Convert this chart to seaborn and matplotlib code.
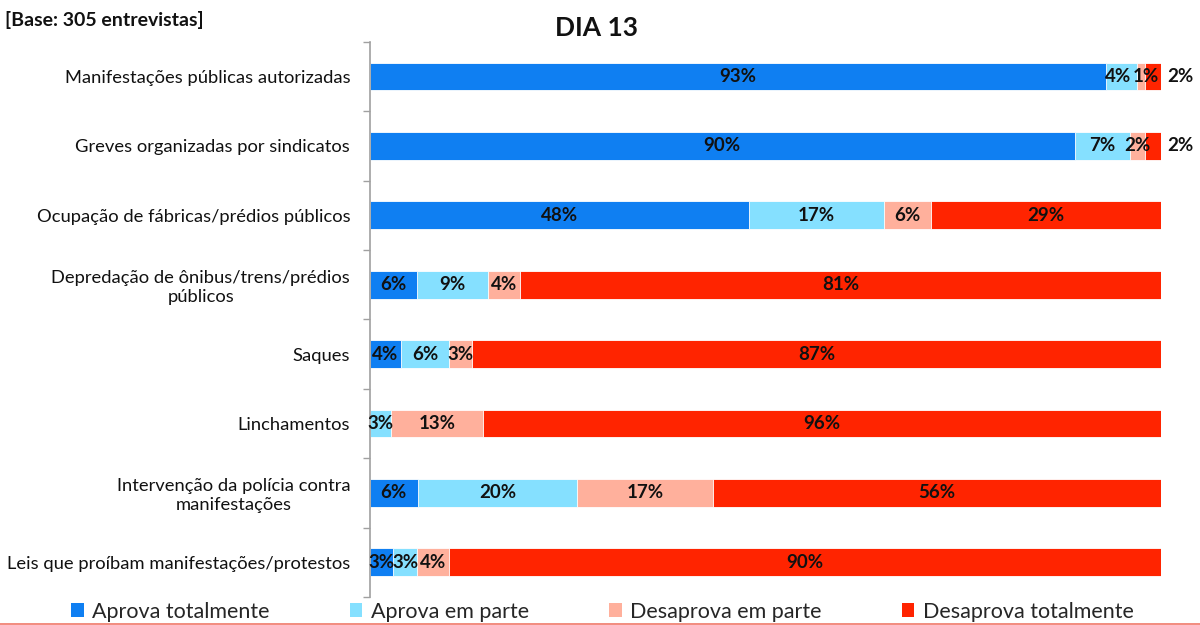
import numpy as np
import pandas as pd
import matplotlib
matplotlib.use("Agg")
import matplotlib.pyplot as plt
import seaborn as sns
from matplotlib.lines import Line2D
from matplotlib.patches import Patch


categories = [
    "Manifestações públicas autorizadas",
    "Greves organizadas por sindicatos",
    "Ocupação de fábricas/prédios públicos",
    "Depredação de ônibus/trens/prédios\npúblicos",
    "Saques",
    "Linchamentos",
    "Intervenção da polícia contra\nmanifestações",
    "Leis que proíbam manifestações/protestos",
]
aprova_total = [93, 90, 48, 6, 4, 0, 6, 3]
aprova_parte = [4, 7, 17, 9, 6, 3, 20, 3]
desaprova_parte = [1, 2, 6, 4, 3, 13, 17, 4]
desaprova_total = [2, 2, 29, 81, 87, 96, 56, 90]

series_names = ["Aprova totalmente", "Aprova em parte", "Desaprova em parte", "Desaprova totalmente"]
colors = ["#0F7FF2", "#85E0FF", "#FFB09C", "#FF2400"]

sns.set_theme(style="white")
plt.rcParams["font.family"] = ["Lato", "DejaVu Sans"]

df = pd.DataFrame({
    "categoria": categories,
    series_names[0]: aprova_total,
    series_names[1]: aprova_parte,
    series_names[2]: desaprova_parte,
    series_names[3]: desaprova_total,
})

# 100% stacked: every row is normalised by its own total
vals = df[series_names].astype(float)
share = vals.div(vals.sum(axis=1), axis=0)
cum = share.cumsum(axis=1)

fig = plt.figure(figsize=(12, 6.25), dpi=100)
ax = fig.add_axes([0.308, 0.045, 0.6595, 0.888])

# draw cumulative bars from the outermost segment inwards
for name, color in reversed(list(zip(series_names, colors))):
    sns.barplot(x=cum[name], y=df["categoria"], color=color, orient="h",
                width=0.4, edgecolor="white", linewidth=0.6, saturation=1, ax=ax)

for i in range(len(categories)):
    for j, name in enumerate(series_names):
        v = vals.iloc[i][name]
        if v == 0:
            continue
        s = share.iloc[i][name]
        x = cum.iloc[i][name] - s / 2
        if j == len(series_names) - 1 and s < 0.03:
            x = 1.024
        elif s < 0.015:
            # tiny segment: push label a little right so it clears its neighbour
            x += 0.006
        elif j == 1 and s < 0.05 and i < 2:
            x -= 0.004
        ax.text(x, i, f"{int(v)}%", ha="center", va="center", fontsize=13.5,
                fontweight="bold", color="#111111")

ax.set_xlim(0, 1)
ax.set_ylim(len(categories) - 0.5, -0.5)
ax.set_xlabel("")
ax.set_ylabel("")
ax.set_xticks([])
ax.tick_params(axis="y", which="major", length=0, pad=14, labelsize=13.2, labelcolor="#111111")
ax.set_yticks(np.arange(-0.5, len(categories), 1.0), minor=True)
ax.tick_params(axis="y", which="minor", length=5, width=1, color="#A0A0A0", direction="out", left=True)
for lbl in ax.get_yticklabels():
    lbl.set_multialignment("center")
for side in ["top", "right", "bottom"]:
    ax.spines[side].set_visible(False)
ax.spines["left"].set_color("#A0A0A0")
ax.spines["left"].set_linewidth(1.2)

fig.text(0.497, 0.955, "DIA 13", ha="center", va="center", fontsize=19, fontweight="bold", color="#111111")
fig.text(0.004, 0.968, "[Base: 305 entrevistas]", ha="left", va="center", fontsize=14, fontweight="bold", color="#111111")

handles = [Patch(facecolor=c, edgecolor="none") for c in colors]
fig.legend(handles, series_names, loc="center", bbox_to_anchor=(0.502, 0.021), ncol=4, frameon=False,
           fontsize=15.5, handlelength=0.6, handleheight=0.6, handletextpad=0.4, columnspacing=3.7)

fig.add_artist(Line2D([0, 1], [0.002, 0.002], color="#F07868", linewidth=1.2, transform=fig.transFigure))

fig.savefig("out.png", dpi=100)
